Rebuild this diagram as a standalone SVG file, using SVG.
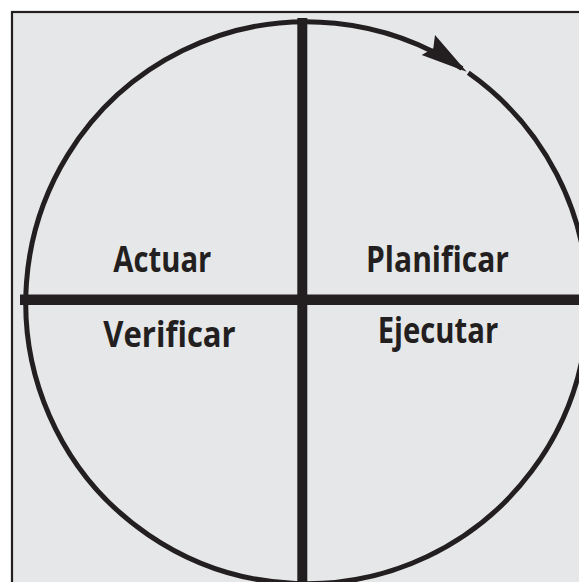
<svg xmlns="http://www.w3.org/2000/svg" width="579" height="582" viewBox="0 0 579 582">
  <style>
    .lbl { font-family: "Open Sans", "Noto Sans", "Liberation Sans", sans-serif; font-weight: bold; font-size: 35px; fill: #231f20; }
    .ink { stroke: #231f20; fill: none; }
  </style>
  <rect x="0" y="0" width="579" height="582" fill="#ffffff"/>
  <rect x="12" y="12" width="600" height="600" fill="#e6e7e8" stroke="#231f20" stroke-width="2.2"/>
  <g id="cycle">
    <path class="ink" stroke-width="5" d="M 468.3 72.8 A 281 281 0 1 1 462 68.5"/>
    <path fill="#231f20" d="M 466.7 71.7 L 421.7 55 L 433.3 48.3 L 435 35 Z"/>
  </g>
  <g id="axes">
    <line class="ink" stroke-width="10" x1="302.3" y1="18" x2="302.3" y2="582"/>
    <line class="ink" stroke-width="10.5" x1="20" y1="299.8" x2="579" y2="299.8"/>
  </g>
  <g id="actuar"><text class="lbl" x="113.3" y="271.5" textLength="98" lengthAdjust="spacingAndGlyphs">Actuar</text></g>
  <g id="planificar"><text class="lbl" x="366" y="271.5" textLength="143" lengthAdjust="spacingAndGlyphs">Planificar</text></g>
  <g id="verificar"><text class="lbl" x="103.3" y="347.3" textLength="132.4" lengthAdjust="spacingAndGlyphs">Verificar</text></g>
  <g id="ejecutar"><text class="lbl" x="377.7" y="343.3" textLength="120.6" lengthAdjust="spacingAndGlyphs">Ejecutar</text></g>
</svg>
